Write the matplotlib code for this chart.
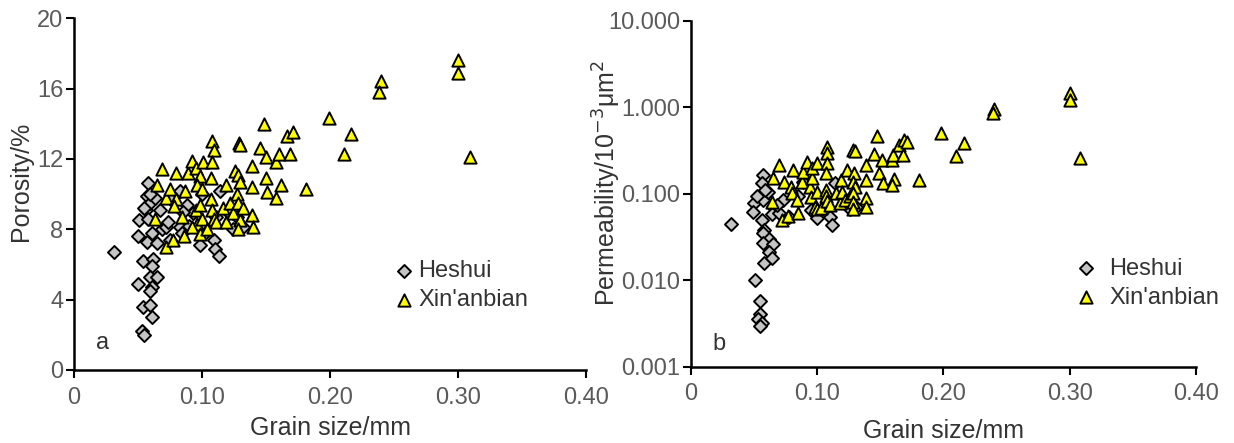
import matplotlib
matplotlib.use("Agg")
import matplotlib.pyplot as plt
from matplotlib.ticker import FixedLocator, FixedFormatter

plt.rcParams['font.family'] = ['Liberation Sans', 'DejaVu Sans']

# ---- Panel a: grain size vs porosity ----
heshui_a_size = [0.031, 0.058, 0.051, 0.050, 0.057, 0.056, 0.059, 0.058, 0.057, 0.061,
                 0.065, 0.069, 0.067, 0.063, 0.054, 0.062, 0.061, 0.050, 0.059, 0.065,
                 0.061, 0.059, 0.054, 0.059, 0.061, 0.053, 0.055, 0.072, 0.075, 0.083,
                 0.084, 0.088, 0.083, 0.093, 0.098, 0.102, 0.109, 0.110, 0.113, 0.114,
                 0.111, 0.124, 0.132, 0.127, 0.059, 0.055, 0.073, 0.075, 0.085, 0.090,
                 0.120, 0.100]
heshui_a_por = [6.7, 10.6, 8.5, 7.6, 9.9, 9.1, 9.5, 8.6, 7.3, 7.8,
                7.2, 8.0, 9.1, 9.8, 6.2, 6.3, 5.9, 4.9, 5.3, 5.3,
                4.7, 4.5, 3.6, 3.7, 3.0, 2.2, 2.0, 8.1, 7.4, 8.1,
                7.8, 9.4, 10.2, 8.9, 7.1, 7.8, 7.4, 6.9, 6.5, 10.2,
                8.7, 8.0, 8.1, 8.7, 10.0, 9.2, 8.4, 9.8, 9.0, 8.2,
                9.0, 10.0]

xin_a_size = [0.069, 0.065, 0.063, 0.072, 0.077, 0.072, 0.075, 0.080, 0.080, 0.078,
              0.084, 0.086, 0.087, 0.089, 0.092, 0.095, 0.098, 0.101, 0.096, 0.100,
              0.095, 0.098, 0.096, 0.092, 0.100, 0.098, 0.104, 0.108, 0.109, 0.108,
              0.107, 0.107, 0.108, 0.109, 0.111, 0.116, 0.119, 0.119, 0.122, 0.124,
              0.126, 0.128, 0.127, 0.130, 0.129, 0.130, 0.128, 0.130, 0.128, 0.132,
              0.139, 0.140, 0.139, 0.139, 0.145, 0.148, 0.150, 0.151, 0.150, 0.158,
              0.160, 0.162, 0.158, 0.166, 0.169, 0.171, 0.181, 0.199, 0.216, 0.211,
              0.240, 0.238, 0.300, 0.300, 0.309]
xin_a_por = [11.4, 10.5, 8.6, 7.0, 7.4, 9.8, 10.3, 11.2, 9.7, 9.3,
             8.7, 7.6, 10.2, 11.2, 11.9, 11.5, 11.0, 11.8, 10.5, 10.3,
             9.1, 9.4, 8.3, 8.1, 8.6, 7.7, 8.0, 13.0, 12.5, 11.8,
             10.9, 9.7, 9.1, 8.6, 8.4, 9.2, 10.5, 8.4, 9.5, 8.9,
             11.3, 11.1, 10.0, 10.7, 12.9, 12.8, 9.5, 8.5, 8.0, 9.2,
             8.8, 8.1, 11.6, 10.4, 12.6, 14.0, 12.1, 10.1, 10.9, 11.8,
             12.3, 10.5, 9.8, 13.3, 12.3, 13.5, 10.3, 14.3, 13.4, 12.3,
             16.4, 15.8, 17.6, 16.9, 12.1]

# ---- Panel b: grain size vs permeability ----
heshui_b_size = [0.032, 0.051, 0.055, 0.055, 0.053, 0.056, 0.055, 0.057, 0.056, 0.050,
                 0.049, 0.057, 0.056, 0.058, 0.057, 0.062, 0.057, 0.065, 0.062, 0.058,
                 0.064, 0.061, 0.065, 0.064, 0.070, 0.073, 0.078, 0.089, 0.100, 0.110,
                 0.112, 0.114, 0.123, 0.126, 0.131, 0.059, 0.052, 0.068, 0.085, 0.095]
heshui_b_perm = [0.045, 0.010, 0.0058, 0.0041, 0.0036, 0.0032, 0.0030, 0.166, 0.134, 0.079,
                 0.061, 0.085, 0.050, 0.038, 0.035, 0.030, 0.027, 0.026, 0.021, 0.016,
                 0.018, 0.104, 0.070, 0.058, 0.060, 0.085, 0.054, 0.138, 0.052, 0.054,
                 0.044, 0.134, 0.085, 0.066, 0.071, 0.110, 0.095, 0.075, 0.095, 0.065]

xin_b_size = [0.070, 0.065, 0.064, 0.072, 0.077, 0.074, 0.079, 0.081, 0.080, 0.084,
              0.085, 0.088, 0.089, 0.092, 0.094, 0.095, 0.096, 0.096, 0.098, 0.100,
              0.100, 0.100, 0.103, 0.108, 0.108, 0.108, 0.107, 0.107, 0.107, 0.108,
              0.110, 0.115, 0.118, 0.119, 0.120, 0.122, 0.124, 0.126, 0.128, 0.130,
              0.129, 0.128, 0.130, 0.128, 0.128, 0.128, 0.139, 0.139, 0.139, 0.139,
              0.145, 0.147, 0.151, 0.149, 0.152, 0.159, 0.160, 0.161, 0.159, 0.165,
              0.168, 0.169, 0.171, 0.181, 0.198, 0.216, 0.210, 0.240, 0.239, 0.300,
              0.300, 0.308]
xin_b_perm = [0.216, 0.153, 0.081, 0.050, 0.056, 0.138, 0.121, 0.190, 0.102, 0.085,
              0.060, 0.138, 0.180, 0.233, 0.120, 0.093, 0.153, 0.200, 0.071, 0.105,
              0.230, 0.066, 0.069, 0.350, 0.300, 0.230, 0.175, 0.112, 0.094, 0.082,
              0.075, 0.102, 0.079, 0.145, 0.104, 0.085, 0.190, 0.094, 0.320, 0.310,
              0.174, 0.138, 0.121, 0.102, 0.081, 0.066, 0.216, 0.144, 0.090, 0.071,
              0.290, 0.460, 0.245, 0.174, 0.134, 0.245, 0.280, 0.150, 0.127, 0.370,
              0.280, 0.420, 0.400, 0.145, 0.510, 0.390, 0.275, 0.950, 0.850, 1.470,
              1.220, 0.260]

x_ticks = [0, 0.1, 0.2, 0.3, 0.4]
x_ticklabels = ["0", "0.10", "0.20", "0.30", "0.40"]
por_ticks = [0, 4, 8, 12, 16, 20]
perm_ticks = [0.001, 0.01, 0.1, 1, 10]
perm_ticklabels = ["0.001", "0.010", "0.100", "1.000", "10.000"]

GRAY_FILL = "#c4c4c4"
YELLOW = "#ffff00"
TICK_COLOR = "#5a5a5a"
TEXT_COLOR = "#333333"

fig = plt.figure(figsize=(12.34, 4.43), dpi=100)
ax1 = fig.add_axes([0.060, 0.165, 0.415, 0.794])
ax2 = fig.add_axes([0.560, 0.172, 0.409, 0.781])


def style_axes(ax, xlabelpad):
    for side in ("top", "right"):
        ax.spines[side].set_visible(False)
    for side in ("left", "bottom"):
        ax.spines[side].set_linewidth(1.8)
        ax.spines[side].set_color("black")
    ax.tick_params(axis="both", which="major", direction="out", length=6, width=1.5,
                   color="black", labelcolor=TICK_COLOR, labelsize=17)
    ax.tick_params(axis="x", which="major", pad=6)
    ax.tick_params(axis="y", which="major", pad=1.5)
    ax.tick_params(axis="both", which="minor", length=0)
    ax.xaxis.set_major_locator(FixedLocator(x_ticks))
    ax.xaxis.set_major_formatter(FixedFormatter(x_ticklabels))
    ax.set_xlim(0, 0.4)
    ax.set_xlabel("Grain size/mm", fontsize=18, color=TEXT_COLOR, labelpad=xlabelpad)


def draw_points(ax, hx, hy, xx, xy):
    ax.scatter(hx, hy, marker="D", s=44, facecolor=GRAY_FILL, edgecolor="black",
               linewidths=1.4, label="Heshui", zorder=3, clip_on=False)
    ax.scatter(xx, xy, marker="^", s=78, facecolor=YELLOW, edgecolor="black",
               linewidths=1.4, label="Xin'anbian", zorder=4, clip_on=False)


# Panel a
draw_points(ax1, heshui_a_size, heshui_a_por, xin_a_size, xin_a_por)
style_axes(ax1, xlabelpad=5)
ax1.set_ylim(0, 20)
ax1.yaxis.set_major_locator(FixedLocator(por_ticks))
ax1.set_ylabel("Porosity/%", fontsize=18, color=TEXT_COLOR, labelpad=0)
ax1.yaxis.set_label_coords(-0.08, 0.535)
ax1.text(0.017, 1.2, "a", fontsize=17, color=TEXT_COLOR)
ax1.legend(loc="upper left", bbox_to_anchor=(0.603, 0.345), frameon=False,
           fontsize=17, handletextpad=0.2, labelspacing=0.3, borderpad=0,
           handlelength=0.8, labelcolor=TEXT_COLOR)

# Panel b
draw_points(ax2, heshui_b_size, heshui_b_perm, xin_b_size, xin_b_perm)
style_axes(ax2, xlabelpad=10)
ax2.set_yscale("log")
ax2.set_ylim(0.001, 10)
ax2.yaxis.set_major_locator(FixedLocator(perm_ticks))
ax2.yaxis.set_major_formatter(FixedFormatter(perm_ticklabels))
ax2.yaxis.set_minor_locator(FixedLocator([]))
ax2.set_ylabel("Permeability/10$^{-3}$μm$^{2}$", fontsize=18, color=TEXT_COLOR)
ax2.yaxis.set_label_coords(-0.135, 0.53)
ax2.text(0.017, 0.00155, "b", fontsize=17, color=TEXT_COLOR)
ax2.legend(loc="upper left", bbox_to_anchor=(0.74, 0.35), frameon=False,
           fontsize=17, handletextpad=0.6, labelspacing=0.3, borderpad=0,
           handlelength=0.8, labelcolor=TEXT_COLOR)

fig.savefig("out.png", dpi=100)
